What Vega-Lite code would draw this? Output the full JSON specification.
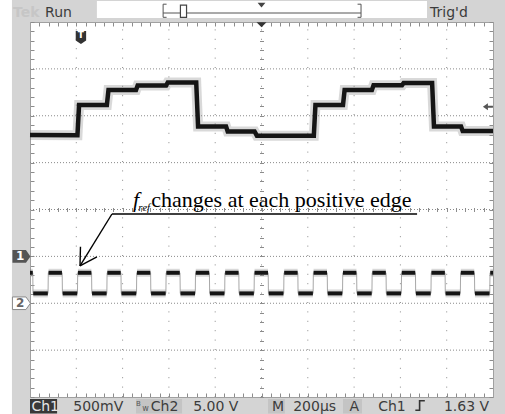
{
  "$schema": "https://vega.github.io/schema/vega-lite/v6.json",
  "width": 463,
  "height": 375,
  "autosize": "none",
  "padding": {"left": 30, "top": 22, "right": 12, "bottom": 17},
  "background": "#d4d4d4",
  "config": {
    "view": {"fill": "white", "stroke": null},
    "axis": {"labels": false, "grid": false, "domainColor": "#a0a0a0", "tickColor": "#8c8c8c", "tickWidth": 1, "domainWidth": 1}
  },
  "datasets": {
    "ch1": [
      {"t": 0, "v": 1.59}, {"t": 205, "v": 1.585}, {"t": 212, "v": 2.23}, {"t": 332, "v": 2.23},
      {"t": 339, "v": 2.55}, {"t": 458, "v": 2.55}, {"t": 465, "v": 2.645}, {"t": 588, "v": 2.645},
      {"t": 595, "v": 2.71}, {"t": 718, "v": 2.71}, {"t": 726, "v": 1.77}, {"t": 847, "v": 1.77},
      {"t": 854, "v": 1.665}, {"t": 970, "v": 1.665}, {"t": 980, "v": 1.575}, {"t": 1226, "v": 1.575},
      {"t": 1233, "v": 2.23}, {"t": 1352, "v": 2.23}, {"t": 1359, "v": 2.55}, {"t": 1477, "v": 2.55},
      {"t": 1484, "v": 2.65}, {"t": 1607, "v": 2.65}, {"t": 1614, "v": 2.7}, {"t": 1737, "v": 2.7},
      {"t": 1745, "v": 1.77}, {"t": 1862, "v": 1.77}, {"t": 1869, "v": 1.675}, {"t": 2000, "v": 1.675}
    ],
    "ch2": [
      {"t": 0, "v": -1.35}, {"t": 12, "v": -1.35}, {"t": 13, "v": -1.79},
      {"t": 78, "v": -1.79}, {"t": 79, "v": -1.35}, {"t": 139, "v": -1.35}, {"t": 140, "v": -1.79},
      {"t": 205, "v": -1.79}, {"t": 206, "v": -1.35}, {"t": 266, "v": -1.35}, {"t": 267, "v": -1.79},
      {"t": 332, "v": -1.79}, {"t": 333, "v": -1.35}, {"t": 393, "v": -1.35}, {"t": 394, "v": -1.79},
      {"t": 460, "v": -1.79}, {"t": 461, "v": -1.35}, {"t": 521, "v": -1.35}, {"t": 522, "v": -1.79},
      {"t": 587, "v": -1.79}, {"t": 588, "v": -1.35}, {"t": 648, "v": -1.35}, {"t": 649, "v": -1.79},
      {"t": 714, "v": -1.79}, {"t": 715, "v": -1.35}, {"t": 775, "v": -1.35}, {"t": 776, "v": -1.79},
      {"t": 841, "v": -1.79}, {"t": 842, "v": -1.35}, {"t": 902, "v": -1.35}, {"t": 903, "v": -1.79},
      {"t": 968, "v": -1.79}, {"t": 969, "v": -1.35}, {"t": 1029, "v": -1.35}, {"t": 1030, "v": -1.79},
      {"t": 1096, "v": -1.79}, {"t": 1097, "v": -1.35}, {"t": 1157, "v": -1.35}, {"t": 1158, "v": -1.79},
      {"t": 1223, "v": -1.79}, {"t": 1224, "v": -1.35}, {"t": 1284, "v": -1.35}, {"t": 1285, "v": -1.79},
      {"t": 1350, "v": -1.79}, {"t": 1351, "v": -1.35}, {"t": 1411, "v": -1.35}, {"t": 1412, "v": -1.79},
      {"t": 1477, "v": -1.79}, {"t": 1478, "v": -1.35}, {"t": 1538, "v": -1.35}, {"t": 1539, "v": -1.79},
      {"t": 1604, "v": -1.79}, {"t": 1605, "v": -1.35}, {"t": 1665, "v": -1.35}, {"t": 1666, "v": -1.79},
      {"t": 1732, "v": -1.79}, {"t": 1733, "v": -1.35}, {"t": 1793, "v": -1.35}, {"t": 1794, "v": -1.79},
      {"t": 1859, "v": -1.79}, {"t": 1860, "v": -1.35}, {"t": 1920, "v": -1.35}, {"t": 1921, "v": -1.79},
      {"t": 1986, "v": -1.79}, {"t": 1987, "v": -1.35}, {"t": 2000, "v": -1.35}
    ],
    "ch2p": [
      {"t": 0, "t2": 12, "v": -1.35}, {"t": 80, "t2": 138, "v": -1.35}, {"t": 207, "t2": 265, "v": -1.35},
      {"t": 334, "t2": 392, "v": -1.35}, {"t": 462, "t2": 520, "v": -1.35}, {"t": 589, "t2": 647, "v": -1.35},
      {"t": 716, "t2": 774, "v": -1.35}, {"t": 843, "t2": 901, "v": -1.35}, {"t": 970, "t2": 1028, "v": -1.35},
      {"t": 1098, "t2": 1156, "v": -1.35}, {"t": 1225, "t2": 1283, "v": -1.35}, {"t": 1352, "t2": 1410, "v": -1.35},
      {"t": 1479, "t2": 1537, "v": -1.35}, {"t": 1606, "t2": 1664, "v": -1.35}, {"t": 1734, "t2": 1792, "v": -1.35},
      {"t": 1861, "t2": 1919, "v": -1.35}, {"t": 1988, "t2": 2000, "v": -1.35},
      {"t": 14, "t2": 77, "v": -1.79}, {"t": 141, "t2": 204, "v": -1.79}, {"t": 268, "t2": 331, "v": -1.79},
      {"t": 395, "t2": 459, "v": -1.79}, {"t": 523, "t2": 586, "v": -1.79}, {"t": 650, "t2": 713, "v": -1.79},
      {"t": 777, "t2": 840, "v": -1.79}, {"t": 904, "t2": 967, "v": -1.79}, {"t": 1031, "t2": 1095, "v": -1.79},
      {"t": 1159, "t2": 1222, "v": -1.79}, {"t": 1286, "t2": 1349, "v": -1.79}, {"t": 1413, "t2": 1476, "v": -1.79},
      {"t": 1540, "t2": 1603, "v": -1.79}, {"t": 1667, "t2": 1731, "v": -1.79}, {"t": 1795, "t2": 1858, "v": -1.79},
      {"t": 1922, "t2": 1985, "v": -1.79}
    ],
    "gridx": [
      {"t": 200, "t2": 200, "v": -4, "v2": 4}, {"t": 400, "t2": 400, "v": -4, "v2": 4}, {"t": 600, "t2": 600, "v": -4, "v2": 4},
      {"t": 800, "t2": 800, "v": -4, "v2": 4}, {"t": 1000, "t2": 1000, "v": -4, "v2": 4}, {"t": 1200, "t2": 1200, "v": -4, "v2": 4},
      {"t": 1400, "t2": 1400, "v": -4, "v2": 4}, {"t": 1600, "t2": 1600, "v": -4, "v2": 4}, {"t": 1800, "t2": 1800, "v": -4, "v2": 4}
    ],
    "gridy": [
      {"t": 0, "t2": 2000, "v": -3, "v2": -3}, {"t": 0, "t2": 2000, "v": -2, "v2": -2}, {"t": 0, "t2": 2000, "v": -1, "v2": -1},
      {"t": 0, "t2": 2000, "v": 0, "v2": 0}, {"t": 0, "t2": 2000, "v": 1, "v2": 1}, {"t": 0, "t2": 2000, "v": 2, "v2": 2},
      {"t": 0, "t2": 2000, "v": 3, "v2": 3}
    ],
    "arrowLines": [
      {"t": 354, "t2": 1672, "v": -0.096, "v2": -0.096},
      {"t": 354, "t2": 216, "v": -0.096, "v2": -1.205},
      {"t": 216, "t2": 289, "v": -1.205, "v2": -1.013},
      {"t": 216, "t2": 218, "v": -1.205, "v2": -0.796}
    ],
    "bracket": [
      {"t": 575, "t2": 1430, "v": 4.192, "v2": 4.192},
      {"t": 575, "t2": 575, "v": 4.1, "v2": 4.38},
      {"t": 1430, "t2": 1430, "v": 4.1, "v2": 4.38},
      {"t": 575, "t2": 590, "v": 4.38, "v2": 4.38},
      {"t": 575, "t2": 590, "v": 4.1, "v2": 4.1},
      {"t": 1415, "t2": 1430, "v": 4.38, "v2": 4.38},
      {"t": 1415, "t2": 1430, "v": 4.1, "v2": 4.1}
    ],
    "barText": [
      {"t": 65, "v": 4.1, "label": "Run"},
      {"t": 1728, "v": 4.1, "label": "Trig'd"},
      {"t": 187, "v": -4.3, "label": "500mV"},
      {"t": 522, "v": -4.3, "label": "Ch2"},
      {"t": 705, "v": -4.3, "label": "5.00 V"},
      {"t": 1045, "v": -4.3, "label": "M"},
      {"t": 1137, "v": -4.3, "label": "200µs"},
      {"t": 1380, "v": -4.3, "label": "A"},
      {"t": 1504, "v": -4.3, "label": "Ch1"},
      {"t": 1788, "v": -4.3, "label": "1.63 V"}
    ],
    "lightBoxes": [
      {"t": 458, "t2": 657, "v": -4.043, "v2": -4.352},
      {"t": 1028, "t2": 1101, "v": -4.043, "v2": -4.352},
      {"t": 1352, "t2": 1434, "v": -4.043, "v2": -4.352}
    ]
  },
  "encoding": {
    "x": {"field": "t", "type": "quantitative", "scale": {"domain": [0, 2000]}, "axis": null},
    "y": {"field": "v", "type": "quantitative", "scale": {"domain": [-4, 4]}, "axis": null}
  },
  "layer": [
    {
      "data": {"values": [{"t": -130, "t2": -78, "v": -4.5, "v2": 4.6}]},
      "mark": {"type": "rect", "color": "white"},
      "encoding": {"x2": {"field": "t2"}, "y2": {"field": "v2"}}
    },
    {
      "data": {"values": [{"t": 289, "t2": 1715, "v": 4.085, "v2": 4.448}]},
      "mark": {"type": "rect", "color": "white"},
      "encoding": {"x2": {"field": "t2"}, "y2": {"field": "v2"}}
    },
    {
      "data": {"name": "lightBoxes"},
      "mark": {"type": "rect", "color": "#c4c4c4"},
      "encoding": {"x2": {"field": "t2"}, "y2": {"field": "v2"}}
    },
    {
      "data": {"values": [{"t": 0, "t2": 117, "v": -4.043, "v2": -4.352}]},
      "mark": {"type": "rect", "color": "#383838"},
      "encoding": {"x2": {"field": "t2"}, "y2": {"field": "v2"}}
    },
    {
      "data": {"name": "gridx"},
      "mark": {"type": "rule", "color": "#8a8a8a", "strokeWidth": 1, "strokeDash": [1, 8.4]},
      "encoding": {
        "x": {"field": "t", "type": "quantitative", "scale": {"domain": [0, 2000]}, "axis": {"orient": "bottom", "title": null, "tickSize": -4, "domain": true, "values": [0,40,80,120,160,200,240,280,320,360,400,440,480,520,560,600,640,680,720,760,800,840,880,920,960,1000,1040,1080,1120,1160,1200,1240,1280,1320,1360,1400,1440,1480,1520,1560,1600,1640,1680,1720,1760,1800,1840,1880,1920,1960,2000]}},
        "y": {"field": "v", "type": "quantitative", "scale": {"domain": [-4, 4]}, "axis": {"orient": "left", "title": null, "tickSize": -4, "domain": true, "values": [-4,-3.8,-3.6,-3.4,-3.2,-3,-2.8,-2.6,-2.4,-2.2,-2,-1.8,-1.6,-1.4,-1.2,-1,-0.8,-0.6,-0.4,-0.2,0,0.2,0.4,0.6,0.8,1,1.2,1.4,1.6,1.8,2,2.2,2.4,2.6,2.8,3,3.2,3.4,3.6,3.8,4]}},
        "x2": {"field": "t2"},
        "y2": {"field": "v2"}
      }
    },
    {
      "data": {"name": "gridy"},
      "mark": {"type": "rule", "color": "#8a8a8a", "strokeWidth": 1, "strokeDash": [1, 2]},
      "encoding": {
        "x": {"field": "t", "type": "quantitative", "scale": {"domain": [0, 2000]}, "axis": {"orient": "top", "title": null, "tickSize": -4, "domain": true, "values": [0,40,80,120,160,200,240,280,320,360,400,440,480,520,560,600,640,680,720,760,800,840,880,920,960,1000,1040,1080,1120,1160,1200,1240,1280,1320,1360,1400,1440,1480,1520,1560,1600,1640,1680,1720,1760,1800,1840,1880,1920,1960,2000]}},
        "y": {"field": "v", "type": "quantitative", "scale": {"domain": [-4, 4]}, "axis": {"orient": "right", "title": null, "tickSize": -4, "domain": true, "values": [-4,-3.8,-3.6,-3.4,-3.2,-3,-2.8,-2.6,-2.4,-2.2,-2,-1.8,-1.6,-1.4,-1.2,-1,-0.8,-0.6,-0.4,-0.2,0,0.2,0.4,0.6,0.8,1,1.2,1.4,1.6,1.8,2,2.2,2.4,2.6,2.8,3,3.2,3.4,3.6,3.8,4]}},
        "x2": {"field": "t2"},
        "y2": {"field": "v2"}
      }
    },
    {
      "data": {"name": "ch1"},
      "mark": {"type": "line", "color": "#808080", "strokeWidth": 10, "opacity": 0.3, "strokeJoin": "miter"},
      "encoding": {
        "x": {"field": "t", "type": "quantitative", "scale": {"domain": [0, 2000]}, "axis": {"orient": "top", "offset": -187.5, "title": null, "tickSize": 2, "domain": false, "values": [0,40,80,120,160,200,240,280,320,360,400,440,480,520,560,600,640,680,720,760,800,840,880,920,960,1000,1040,1080,1120,1160,1200,1240,1280,1320,1360,1400,1440,1480,1520,1560,1600,1640,1680,1720,1760,1800,1840,1880,1920,1960,2000]}},
        "y": {"field": "v", "type": "quantitative", "scale": {"domain": [-4, 4]}, "axis": {"orient": "left", "offset": -231.5, "title": null, "tickSize": 2, "domain": false, "values": [-4,-3.8,-3.6,-3.4,-3.2,-3,-2.8,-2.6,-2.4,-2.2,-2,-1.8,-1.6,-1.4,-1.2,-1,-0.8,-0.6,-0.4,-0.2,0,0.2,0.4,0.6,0.8,1,1.2,1.4,1.6,1.8,2,2.2,2.4,2.6,2.8,3,3.2,3.4,3.6,3.8,4]}}
      }
    },
    {
      "data": {"name": "ch1"},
      "mark": {"type": "line", "color": "#151515", "strokeWidth": 4.5, "strokeJoin": "miter"},
      "encoding": {
        "x": {"field": "t", "type": "quantitative", "scale": {"domain": [0, 2000]}, "axis": {"orient": "bottom", "offset": -187.5, "title": null, "tickSize": 2, "domain": false, "values": [0,40,80,120,160,200,240,280,320,360,400,440,480,520,560,600,640,680,720,760,800,840,880,920,960,1000,1040,1080,1120,1160,1200,1240,1280,1320,1360,1400,1440,1480,1520,1560,1600,1640,1680,1720,1760,1800,1840,1880,1920,1960,2000]}},
        "y": {"field": "v", "type": "quantitative", "scale": {"domain": [-4, 4]}, "axis": {"orient": "right", "offset": -231.5, "title": null, "tickSize": 2, "domain": false, "values": [-4,-3.8,-3.6,-3.4,-3.2,-3,-2.8,-2.6,-2.4,-2.2,-2,-1.8,-1.6,-1.4,-1.2,-1,-0.8,-0.6,-0.4,-0.2,0,0.2,0.4,0.6,0.8,1,1.2,1.4,1.6,1.8,2,2.2,2.4,2.6,2.8,3,3.2,3.4,3.6,3.8,4]}}
      }
    },
    {
      "data": {"name": "ch2"},
      "mark": {"type": "line", "color": "#a8a8a8", "strokeWidth": 1}
    },
    {
      "data": {"name": "ch2p"},
      "mark": {"type": "rule", "color": "#808080", "strokeWidth": 8, "opacity": 0.3},
      "encoding": {"x2": {"field": "t2"}}
    },
    {
      "data": {"name": "ch2p"},
      "mark": {"type": "rule", "color": "#151515", "strokeWidth": 4},
      "encoding": {"x2": {"field": "t2"}}
    },
    {
      "data": {"name": "arrowLines"},
      "mark": {"type": "rule", "color": "#000000", "strokeWidth": 1.4},
      "encoding": {"x2": {"field": "t2"}, "y2": {"field": "v2"}}
    },
    {
      "data": {"name": "bracket"},
      "mark": {"type": "rule", "color": "#555555", "strokeWidth": 1},
      "encoding": {"x2": {"field": "t2"}, "y2": {"field": "v2"}}
    },
    {
      "data": {"values": [{"t": 1000, "v": 4.36}]},
      "mark": {"type": "point", "shape": "M -1 -0.6 L 1 -0.6 L 0 0.6 Z", "filled": true, "color": "#444444", "size": 60, "opacity": 1}
    },
    {
      "data": {"values": [{"t": 1000, "v": 3.94}]},
      "mark": {"type": "point", "shape": "M -1 -0.5 L 1 -0.5 L 0 0.5 Z", "filled": true, "color": "#333333", "size": 100, "opacity": 1}
    },
    {
      "data": {"values": [{"t": 663, "v": 4.23}]},
      "mark": {"type": "point", "shape": "M -0.5 -1 L 0.5 -1 L 0.5 1 L -0.5 1 Z", "filled": true, "fill": "white", "stroke": "#444444", "strokeWidth": 1.2, "size": 150, "opacity": 1}
    },
    {
      "data": {"values": [{"t": 220, "v": 3.67}]},
      "mark": {"type": "point", "shape": "M -0.8 -1 L 0.8 -1 L 0.8 0.45 L 0 1 L -0.8 0.45 Z", "filled": true, "color": "#333333", "size": 169, "opacity": 1}
    },
    {
      "data": {"values": [{"t": 220, "v": 3.72, "label": "T"}]},
      "mark": {"type": "text", "color": "white", "font": "DejaVu Sans", "fontSize": 9, "fontWeight": "bold", "align": "center", "baseline": "middle"},
      "encoding": {"text": {"field": "label"}}
    },
    {
      "data": {"values": [{"t": -37, "v": -1}]},
      "mark": {"type": "point", "shape": "M -1 -0.7 L 0.5 -0.7 L 1 0 L 0.5 0.7 L -1 0.7 Z", "filled": true, "color": "#555555", "size": 324, "opacity": 1}
    },
    {
      "data": {"values": [{"t": -37, "v": -2}]},
      "mark": {"type": "point", "shape": "M -1 -0.7 L 0.5 -0.7 L 1 0 L 0.5 0.7 L -1 0.7 Z", "filled": true, "fill": "white", "stroke": "#8a8a8a", "strokeWidth": 1, "size": 324, "opacity": 1}
    },
    {
      "data": {"values": [{"t": -42, "v": -1, "label": "1"}]},
      "mark": {"type": "text", "color": "white", "font": "DejaVu Sans", "fontSize": 12, "fontWeight": "bold", "align": "center", "baseline": "middle"},
      "encoding": {"text": {"field": "label"}}
    },
    {
      "data": {"values": [{"t": -42, "v": -2, "label": "2"}]},
      "mark": {"type": "text", "color": "#666666", "font": "DejaVu Sans", "fontSize": 12, "fontWeight": "bold", "align": "center", "baseline": "middle"},
      "encoding": {"text": {"field": "label"}}
    },
    {
      "data": {"values": [{"t": 1978, "v": 2.19}]},
      "mark": {"type": "point", "shape": "M -1 0 L 0 -0.7 L 0 -0.2 L 1 -0.2 L 1 0.2 L 0 0.2 L 0 0.7 Z", "filled": true, "color": "#555555", "size": 100, "opacity": 1}
    },
    {
      "data": {"values": [{"t": 1685, "v": -4.18}]},
      "mark": {"type": "point", "shape": "M -1 1 L -0.1 1 L -0.1 -1 L 1 -1", "filled": false, "stroke": "#333333", "strokeWidth": 1.6, "size": 90, "opacity": 1}
    },
    {
      "data": {"name": "barText"},
      "mark": {"type": "text", "color": "#3c3c3c", "font": "DejaVu Sans", "fontSize": 14, "align": "left", "baseline": "alphabetic"},
      "encoding": {"text": {"field": "label"}}
    },
    {
      "data": {"values": [{"t": 6, "v": -4.3, "label": "Ch1"}]},
      "mark": {"type": "text", "color": "#e6e6e6", "font": "DejaVu Sans", "fontSize": 14, "align": "left", "baseline": "alphabetic"},
      "encoding": {"text": {"field": "label"}}
    },
    {
      "data": {"values": [{"t": -73, "v": 4.1, "label": "Tek"}]},
      "mark": {"type": "text", "color": "#c6c6c6", "font": "DejaVu Sans", "fontSize": 14, "fontWeight": "bold", "align": "left", "baseline": "alphabetic"},
      "encoding": {"text": {"field": "label"}}
    },
    {
      "data": {"values": [{"t": 458, "v": -4.2, "label": "B"}]},
      "mark": {"type": "text", "color": "#555555", "font": "DejaVu Sans", "fontSize": 7, "align": "left", "baseline": "alphabetic"},
      "encoding": {"text": {"field": "label"}}
    },
    {
      "data": {"values": [{"t": 485, "v": -4.3, "label": "w"}]},
      "mark": {"type": "text", "color": "#555555", "font": "DejaVu Sans", "fontSize": 8, "align": "left", "baseline": "alphabetic"},
      "encoding": {"text": {"field": "label"}}
    },
    {
      "data": {"values": [{"t": 524, "v": 0.064, "label": "changes at each positive edge"}]},
      "mark": {"type": "text", "color": "#000000", "font": "Liberation Serif", "fontSize": 22, "align": "left", "baseline": "alphabetic"},
      "encoding": {"text": {"field": "label"}}
    },
    {
      "data": {"values": [{"t": 445, "v": 0.064, "label": "f"}]},
      "mark": {"type": "text", "color": "#000000", "font": "Liberation Serif", "fontSize": 22, "fontStyle": "italic", "align": "left", "baseline": "alphabetic"},
      "encoding": {"text": {"field": "label"}}
    },
    {
      "data": {"values": [{"t": 468, "v": -0.03, "label": "ref"}]},
      "mark": {"type": "text", "color": "#000000", "font": "Liberation Serif", "fontSize": 11, "fontStyle": "italic", "align": "left", "baseline": "alphabetic"},
      "encoding": {"text": {"field": "label"}}
    }
  ],
  "resolve": {"axis": {"x": "independent", "y": "independent"}}
}
